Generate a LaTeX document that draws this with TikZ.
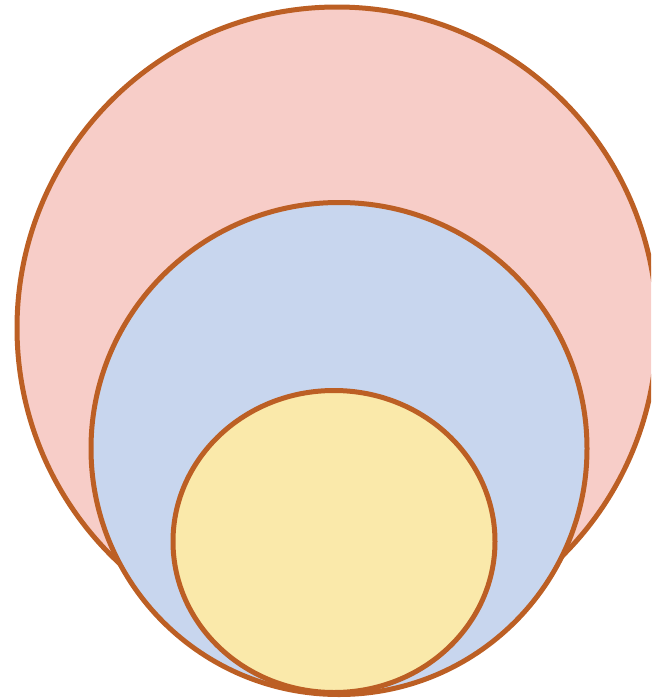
\documentclass[tikz,border=0pt]{standalone}
\usetikzlibrary{shapes.geometric}
\definecolor{pinkfill}{HTML}{F7CDC8}
\definecolor{bluefill}{HTML}{C8D6EE}
\definecolor{yellowfill}{HTML}{FAE9AA}
\definecolor{rim}{HTML}{BC5F24}
\begin{document}
\begin{tikzpicture}[x=1pt,y=-1pt,
  ring/.style={draw=rim,line width=5pt,ellipse,inner sep=0pt,outer sep=0pt}]
\useasboundingbox (0,0) rectangle (651,699);
\clip (0,0) rectangle (651,699);
\node[ring,fill=pinkfill,minimum width=640pt,minimum height=642pt] (outer) at (337,328) {};
\node[ring,fill=bluefill,minimum width=496pt,minimum height=492pt] (middle) at (339,448.5) {};
\node[ring,fill=yellowfill,minimum width=322pt,minimum height=302pt] (inner) at (334,541.5) {};
\end{tikzpicture}
\end{document}
